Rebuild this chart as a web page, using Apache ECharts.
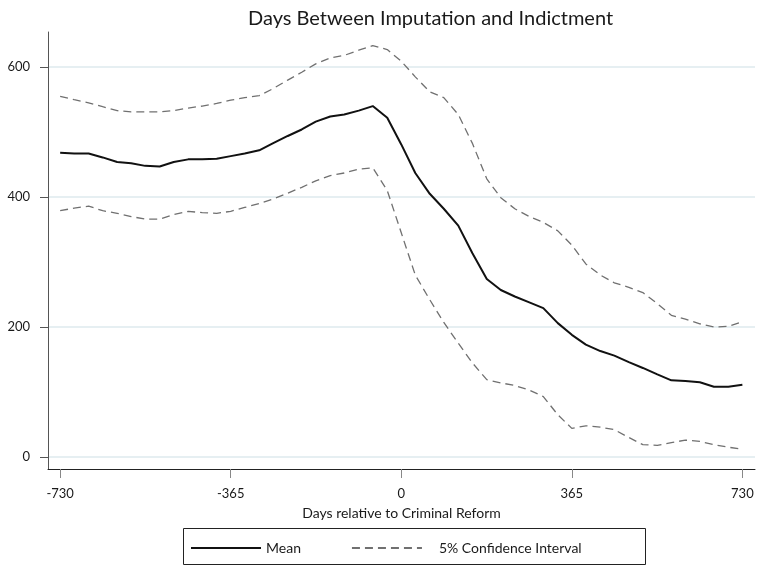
<!DOCTYPE html>
<html>
<head>
<meta charset="utf-8">
<script src="https://cdn.jsdelivr.net/npm/echarts@6/dist/echarts.min.js"></script>
<style>html,body{margin:0;padding:0;background:#fff}#c{width:759px;height:566px}</style>
</head>
<body>
<div id="c"></div>
<script>
// Days relative to the reform (approx. monthly sample points)
const days = [-730,-700,-669,-639,-608,-578,-548,-517,-487,-456,-426,-395,-365,-335,-304,-274,-243,-213,-183,-152,-122,-91,-61,-30,0,30,61,91,122,152,183,213,243,274,304,335,365,395,426,456,487,517,548,578,608,639,669,700,730];
const meanVals = [468,467,467,461,454,452,448,447,454,458,458,459,463,467,472,483,494,504,516,524,527,533,540,522,481,437,405,382,356,314,274,257,247,238,229,206,188,173,163,156,146,137,127,118,117,115,108,108,111];
const upperVals = [555,550,545,539,533,531,531,531,533,537,540,544,549,553,556,567,580,592,605,614,618,626,633,627,609,585,562,553,527,483,428,399,382,370,361,348,326,297,280,268,261,253,236,218,212,205,200,201,208];
const lowerVals = [379,383,386,379,375,370,366,366,373,378,376,375,378,384,390,397,406,415,425,433,437,443,445,410,345,280,242,207,175,145,119,114,110,103,93,65,44,48,46,42,30,19,18,22,26,24,19,15,12];
const xTicks = [-730,-365,0,365,730];
const yTicks = [0,200,400,600];
const titleText = 'Days Between Imputation and Indictment';
const xName = 'Days relative to Criminal Reform';
const meanName = 'Mean';
const ciName = '5% Confidence Interval';

const pair = (vals) => days.map((d, i) => [d, vals[i]]);
const FONT = 'Lato';
const chart = echarts.init(document.getElementById('c'), null, {renderer: 'canvas'});
chart.setOption({
  animation: false,
  backgroundColor: '#ffffff',
  title: {
    text: titleText,
    left: 243, top: 4,
    textStyle: {fontFamily: FONT, fontSize: 20, fontWeight: 'normal', color: '#1a1a1a'}
  },
  grid: {left: 48, right: 4, top: 32, bottom: 97, containLabel: false},
  xAxis: {
    type: 'value', min: -756, max: 757,
    name: xName, nameLocation: 'middle', nameGap: 37,
    nameTextStyle: {fontFamily: FONT, fontSize: 14, color: '#1a1a1a'},
    axisLine: {show: true, onZero: false, lineStyle: {color: '#222', width: 1}},
    axisTick: {show: true, length: 9, customValues: xTicks, lineStyle: {color: '#888', width: 1}},
    axisLabel: {customValues: xTicks, margin: 18, fontFamily: FONT, fontSize: 13, color: '#1a1a1a'},
    splitLine: {show: false}
  },
  yAxis: {
    type: 'value', min: -18.5, max: 654,
    axisLine: {show: true, onZero: false, lineStyle: {color: '#555', width: 1}},
    axisTick: {show: true, length: 8, customValues: yTicks, lineStyle: {color: '#555', width: 1}},
    axisLabel: {customValues: yTicks, margin: 18, fontFamily: FONT, fontSize: 13, color: '#1a1a1a'},
    splitLine: {show: true, lineStyle: {color: '#e6eff2', width: 2}}
  },
  legend: {
    left: 185, top: 536,
    itemWidth: 70, itemHeight: 14, itemGap: 50,
    itemStyle: {opacity: 0},
    textStyle: {fontFamily: FONT, fontSize: 14, color: '#1a1a1a'},
    data: [
      {name: meanName},
      {name: ciName, textStyle: {padding: [0, 0, 0, 12]}}
    ]
  },
  graphic: [{
    type: 'rect', silent: true,
    shape: {x: 183.5, y: 528.5, width: 462, height: 36},
    style: {fill: 'none', stroke: '#222', lineWidth: 1}
  }],
  series: [
    {name: meanName, type: 'line', data: pair(meanVals), symbol: 'none', showSymbol: false,
     lineStyle: {color: '#111', width: 2}, itemStyle: {color: '#111'}, z: 3},
    {name: ciName, type: 'line', data: pair(upperVals), symbol: 'none', showSymbol: false,
     lineStyle: {color: '#707070', width: 1.3, type: [8, 5]}, itemStyle: {color: '#707070'}},
    {name: ciName, type: 'line', data: pair(lowerVals), symbol: 'none', showSymbol: false,
     lineStyle: {color: '#707070', width: 1.3, type: [8, 5]}, itemStyle: {color: '#707070'}}
  ]
});
</script>
</body>
</html>
